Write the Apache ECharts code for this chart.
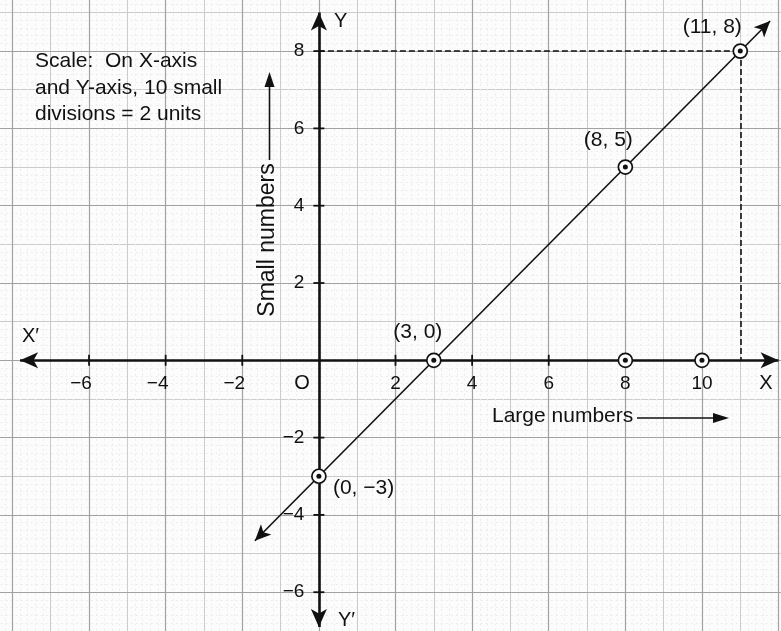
<!DOCTYPE html>
<html>
<head>
<meta charset="utf-8">
<title>Graph of y = x − 3</title>
<script src="https://cdn.jsdelivr.net/npm/echarts@6/dist/echarts.min.js"></script>
<style>
  html, body { margin: 0; padding: 0; background: #fcfcfc; }
  #chart { width: 781px; height: 631px; }
</style>
</head>
<body>
<div id="chart"></div>
<script>
// Tick labels on each axis
const X_TICKS = [-6, -4, -2, 2, 4, 6, 8, 10];
const Y_TICKS = [-6, -4, -2, 2, 4, 6, 8];

// Points of the line y = x - 3 that are circled and labelled
const LINE_POINTS = [[0, -3], [3, 0], [8, 5], [11, 8]];
// Circled points on the x-axis
const AXIS_POINTS = [[8, 0], [10, 0]];
// Arrow tips of the drawn line y = x - 3
const LINE_TIPS = [[-1.67, -4.67], [11.78, 8.78]];
// Extent of the drawn axes (arrow tips)
const X_AXIS_SPAN = [-7.8, 12.0];
const Y_AXIS_SPAN = [-6.9, 9.0];
const GUIDE_POINT = [11, 8];

// Paper extent
const X_RANGE = [-10, 14];
const Y_RANGE = [-8, 10];

const FONT = "'Liberation Sans', Arial, Helvetica, sans-serif";
const INK = '#111111';

const fmtNum = v => String(v).replace('-', '\u2212');

// label placement for each circled point on the line: [dx, dy, align]
const LABEL_PLACE = [[14, 12, 'left'], [-16, -28, 'center'], [-17, -27, 'center'], [-28, -24, 'center']];

const chart = echarts.init(document.getElementById('chart'), null, { renderer: 'canvas' });

// graph-paper axes: heavier lines every 2 units, lighter every unit, fine 0.2 divisions
function paperAxis(range, interval, major) {
  const ax = {
    type: 'value', min: range[0], max: range[1], interval: interval,
    axisLine: { show: false, onZero: false },
    axisTick: { show: false },
    axisLabel: { show: false },
    splitLine: { show: true, lineStyle: { color: major ? '#a2a2a2' : '#cbcbcb', width: major ? 1.2 : 1 } },
    z: major ? 1 : 0
  };
  if (!major) {
    ax.minorTick = { show: false, splitNumber: 5 };
    ax.minorSplitLine = { show: true, lineStyle: { color: '#ececec', width: 1, type: [2, 3] } };
  }
  return ax;
}

const option = {
  backgroundColor: '#fcfcfc',
  animation: false,
  grid: {
    left: -64.2, right: -74.2, top: -26.2, bottom: -38.5,
    containLabel: false,
    outerBoundsMode: 'none'
  },
  xAxis: [paperAxis(X_RANGE, 2, true), paperAxis(X_RANGE, 1, false)],
  yAxis: [paperAxis(Y_RANGE, 2, true), paperAxis(Y_RANGE, 1, false)],
  series: [
    // axes with arrow heads, dashed guides and the line y = x - 3
    {
      type: 'scatter', xAxisIndex: 0, yAxisIndex: 0, data: [], silent: true, z: 5,
      markLine: {
        silent: true, animation: false, precision: 4,
        label: { show: false },
        emphasis: { disabled: true },
        data: [
          [
            { coord: [X_AXIS_SPAN[0], 0], symbol: 'arrow', symbolSize: [12, 18], lineStyle: { color: INK, width: 2.6, type: 'solid' } },
            { coord: [X_AXIS_SPAN[1], 0], symbol: 'arrow', symbolSize: [12, 18] }
          ],
          [
            { coord: [0, Y_AXIS_SPAN[0]], symbol: 'arrow', symbolSize: [12, 18], lineStyle: { color: INK, width: 2.6, type: 'solid' } },
            { coord: [0, Y_AXIS_SPAN[1]], symbol: 'arrow', symbolSize: [12, 18] }
          ],
          [
            { coord: [0, GUIDE_POINT[1]], symbol: 'none', lineStyle: { color: INK, width: 1.6, type: [6, 3] } },
            { coord: [GUIDE_POINT[0], GUIDE_POINT[1]], symbol: 'none' }
          ],
          [
            { coord: [GUIDE_POINT[0], GUIDE_POINT[1]], symbol: 'none', lineStyle: { color: INK, width: 1.6, type: [6, 3] } },
            { coord: [GUIDE_POINT[0], 0], symbol: 'none' }
          ],
          [
            { coord: LINE_TIPS[0], symbol: 'arrow', symbolSize: [11, 16], lineStyle: { color: INK, width: 1.6, type: 'solid' } },
            { coord: LINE_TIPS[1], symbol: 'arrow', symbolSize: [11, 16] }
          ]
        ]
      }
    },
    // tick marks and numbers on the x-axis
    {
      type: 'scatter', xAxisIndex: 0, yAxisIndex: 0, silent: true, z: 6,
      symbol: 'rect', symbolSize: [1.8, 11],
      itemStyle: { color: INK, opacity: 1 },
      data: X_TICKS.map(v => ({
        value: [v, 0],
        label: {
          show: true, position: 'bottom', distance: 8,
          offset: [v < 0 ? -8 : 0, 0],
          formatter: fmtNum(v),
          color: INK, fontFamily: FONT, fontSize: 19
        }
      }))
    },
    // tick marks and numbers on the y-axis
    {
      type: 'scatter', xAxisIndex: 0, yAxisIndex: 0, silent: true, z: 6,
      symbol: 'rect', symbolSize: [11, 1.8],
      itemStyle: { color: INK, opacity: 1 },
      data: Y_TICKS.map(v => ({
        value: [0, v],
        label: {
          show: true, position: 'left', distance: 9,
          formatter: fmtNum(v),
          color: INK, fontFamily: FONT, fontSize: 19
        }
      }))
    },
    // circled points with coordinate labels
    {
      type: 'scatter', xAxisIndex: 0, yAxisIndex: 0, silent: true, z: 8,
      symbol: 'circle', symbolSize: 14,
      itemStyle: { color: '#fdfdfd', borderColor: INK, borderWidth: 1.7, opacity: 1 },
      data: LINE_POINTS.map((p, i) => ({
        value: p,
        label: {
          show: true, position: 'inside',
          align: LABEL_PLACE[i][2], verticalAlign: 'middle',
          offset: [LABEL_PLACE[i][0], LABEL_PLACE[i][1]],
          formatter: '(' + fmtNum(p[0]) + ', ' + fmtNum(p[1]) + ')',
          color: INK, fontFamily: FONT, fontSize: 21
        }
      })).concat(AXIS_POINTS.map(p => ({ value: p, label: { show: false } })))
    },
    // centre dots of the circled points
    {
      type: 'scatter', xAxisIndex: 0, yAxisIndex: 0, silent: true, z: 9,
      symbol: 'circle', symbolSize: 5,
      itemStyle: { color: INK, opacity: 1 },
      data: LINE_POINTS.concat(AXIS_POINTS)
    }
  ],
  graphic: [
    {
      type: 'text', left: 35, top: 48, z: 20,
      style: {
        text: 'Scale:  On X-axis\nand Y-axis, 10 small\ndivisions = 2 units',
        font: '21px ' + FONT, fill: INK, lineHeight: 26.5
      }
    },
    { type: 'text', x: 334, y: 21, z: 20, style: { text: 'Y', font: '20px ' + FONT, fill: INK, verticalAlign: 'middle' } },
    { type: 'text', x: 338, y: 620, z: 20, style: { text: 'Y\u2032', font: '20px ' + FONT, fill: INK, verticalAlign: 'middle' } },
    { type: 'text', x: 22, y: 336, z: 20, style: { text: 'X\u2032', font: '20px ' + FONT, fill: INK, verticalAlign: 'middle' } },
    { type: 'text', x: 766, y: 383, z: 20, style: { text: 'X', font: '20px ' + FONT, fill: INK, align: 'center', verticalAlign: 'middle' } },
    { type: 'text', x: 302, y: 383, z: 20, style: { text: 'O', font: '20px ' + FONT, fill: INK, align: 'center', verticalAlign: 'middle' } },
    // "Small numbers" with an upward arrow
    {
      type: 'text', x: 268, y: 240, rotation: Math.PI / 2, z: 20,
      style: { text: 'Small numbers', font: '23px ' + FONT, fill: INK, align: 'center', verticalAlign: 'middle' }
    },
    { type: 'line', z: 20, shape: { x1: 269.5, y1: 160, x2: 269.5, y2: 84 }, style: { stroke: INK, lineWidth: 1.6 } },
    { type: 'polygon', z: 20, shape: { points: [[269.5, 72], [274.5, 87], [264.5, 87]] }, style: { fill: INK } },
    // "Large numbers" with a rightward arrow
    {
      type: 'text', x: 492, y: 416, z: 20,
      style: { text: 'Large numbers', font: '21px ' + FONT, fill: INK, verticalAlign: 'middle' }
    },
    { type: 'line', z: 20, shape: { x1: 637, y1: 418, x2: 716, y2: 418 }, style: { stroke: INK, lineWidth: 1.6 } },
    { type: 'polygon', z: 20, shape: { points: [[729, 418], [713, 413], [713, 423]] }, style: { fill: INK } }
  ]
};

chart.setOption(option);
</script>
</body>
</html>
